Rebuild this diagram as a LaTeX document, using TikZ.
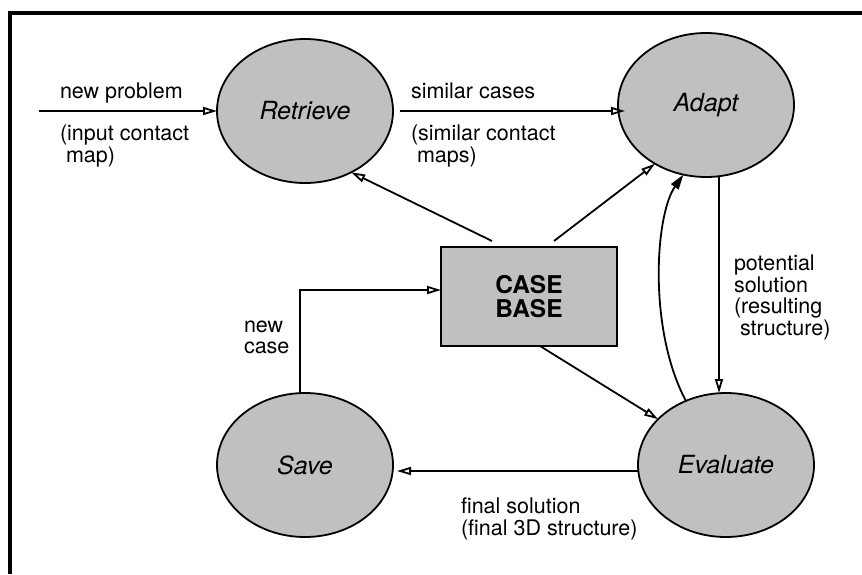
\documentclass[tikz,border=0pt]{standalone}
\usepackage{fontspec}
\setmainfont{TeX Gyre Heros}
\usetikzlibrary{shapes.geometric,arrows.meta}
\definecolor{cellgray}{RGB}{192,192,192}
\begin{document}
\begin{tikzpicture}[x=1pt,y=-1pt,
  every node/.style={inner sep=0pt, outer sep=0pt},
  stage/.style={ellipse, draw, line width=1.8pt, fill=cellgray,
    minimum width=176pt, minimum height=144pt,
    font=\fontsize{25}{30}\selectfont\itshape},
  store/.style={rectangle, draw, line width=2pt, fill=cellgray,
    minimum width=176pt, minimum height=99pt, align=center,
    font=\fontsize{24.5}{24}\selectfont\bfseries},
  lbl/.style={anchor=base west, font=\fontsize{21.5}{22}\selectfont},
  link/.style={line width=1.8pt, -{Triangle[open, length=14pt, width=8pt]}},
  solidlink/.style={line width=1.8pt, -{Triangle[length=15pt, width=9pt]}}]

\useasboundingbox (0,0) rectangle (862,574);

% frame
\draw[line width=4pt] (10,574) -- (10,13) -- (862,13);

% stages of the cycle
\node[stage] (retrieve) at (305,111) {Retrieve};
\node[stage] (adapt) at (706,105) {Adapt};
\node[stage] (save) at (305,465) {Save};
\node[stage] (evaluate) at (726,465) {Evaluate};
\node[store] (casebase) at (529,296.5) {CASE\\BASE};

% incoming problem
\coordinate (probin) at (39,111);
\draw[link] (probin) -- (retrieve.west);

% connectors
\draw[link] ([xshift=7pt]retrieve.east) -- ([xshift=7pt]retrieve.east -| adapt.west);
\draw[link] ([xshift=-37pt,yshift=6pt]casebase.north) -- (retrieve.-53);
\draw[link] ([xshift=25pt,yshift=6pt]casebase.north) -- (adapt.-131);
\draw[link] ([xshift=13pt]adapt.south) -- ([xshift=-7pt]evaluate.north);
\draw[solidlink] (evaluate.122) .. controls (648,330) and (655,215) .. (adapt.-108);
\draw[link] ([xshift=11pt]casebase.south) -- (evaluate.146);
\draw[link] ([yshift=-6pt]evaluate.west) -- ([xshift=4pt,yshift=-6pt]save.east);
\draw[link] ([xshift=-5pt]save.north) |- ([yshift=6.5pt]casebase.west);

% labels
\node[lbl] (newproblem) at (60,98) {new problem};
\node[lbl] (inputmapA) at (60,140) {(input contact};
\node[lbl] (inputmapB) at (66,162) {map)};
\node[lbl] (similarA) at (411,98) {similar cases};
\node[lbl] (similarB) at (411,140) {(similar contact};
\node[lbl] (similarC) at (417,162) {maps)};
\node[lbl] (potA) at (734,270) {potential};
\node[lbl] (potB) at (734,292) {solution};
\node[lbl] (potC) at (734,313) {(resulting};
\node[lbl] (potD) at (740,335) {structure)};
\node[lbl] (newcaseA) at (244,332) {new};
\node[lbl] (newcaseB) at (244,353) {case};
\node[lbl] (finalA) at (461,513) {final solution};
\node[lbl] (finalB) at (461,535) {(final 3D structure)};
\end{tikzpicture}
\end{document}
